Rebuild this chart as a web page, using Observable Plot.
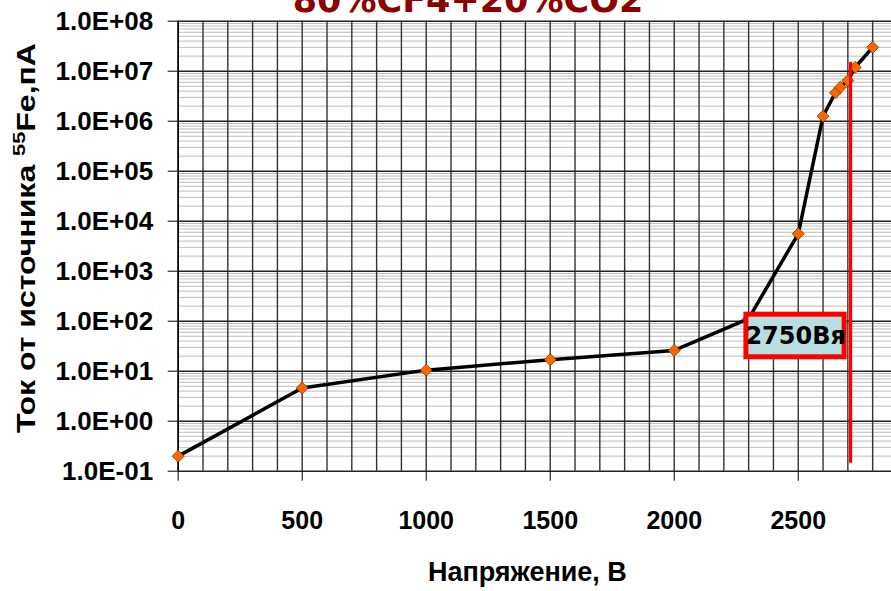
<!DOCTYPE html>
<html>
<head>
<meta charset="utf-8">
<script src="https://cdn.jsdelivr.net/npm/d3@7"></script>
<script src="https://cdn.jsdelivr.net/npm/@observablehq/plot@0.6"></script>
<style>
  html, body { margin: 0; padding: 0; background: #fff; }
  #wrap { position: relative; width: 891px; height: 591px; overflow: hidden; background: #fff; }
  #title { position: absolute; left: 0; width: 936px; top: -17px; text-align: center;
           font-family: "DejaVu Sans", Verdana, sans-serif; font-weight: bold; font-size: 35px;
           line-height: 35px; color: #8B0000; white-space: nowrap; }
  #chart { position: absolute; left: 0; top: 0; }
</style>
</head>
<body>
<div id="wrap">
  <div id="chart"></div>
  <div id="title">80%CF4+20%CO2</div>
</div>
<script>
// ---- data ----
const voltage = [0, 500, 1000, 1500, 2000, 2300, 2500, 2600, 2650, 2670, 2700, 2730, 2800];
const current = [0.2, 4.6, 10.5, 17, 26, 113, 5600, 1.26e6, 3.7e6, 4.8e6, 6.5e6, 1.2e7, 3.0e7];

const xTicks = [0, 500, 1000, 1500, 2000, 2500];
const yTicks = [1e-1, 1e0, 1e1, 1e2, 1e3, 1e4, 1e5, 1e6, 1e7, 1e8];

// annotation: red vertical marker and labelled box
const markerVoltage = [2711];
const markerRange = [0.145, 1.5e7];
const boxLabel = ["2750Вя"];
const boxX = [2291, 2687];
const boxY = [19, 135];
const boxTextPos = [2287, 50];

const titleText = "80%CF4+20%CO2";
const xLabel = "Напряжение, В";
const yLabelMain = "Ток от источника ";
const yLabelSup = "55";
const yLabelTail = "Fe,пА";

// ---- derived tables ----
const data = voltage.map((v, i) => ({v, c: current[i]}));
const xGrid = d3.range(0, 2900, 100);
const yMinor = [];
for (let e = -1; e < 8; e++) for (let k = 2; k <= 9; k++) yMinor.push(k * Math.pow(10, e));

const fmt = d => {
  const e = Math.round(Math.log10(d));
  return "1.0E" + (e < 0 ? "-" : "+") + String(Math.abs(e)).padStart(2, "0");
};

const chart = Plot.plot({
  width: 891,
  height: 591,
  marginTop: 20.7,
  marginBottom: 120.3,
  marginLeft: 177.7,
  marginRight: 0,
  x: {domain: [0, 2876]},
  y: {type: "log", domain: [0.1, 1e8]},
  style: {fontFamily: "'Liberation Sans', Arial, sans-serif", background: "#fff", color: "#000"},
  marks: [
    Plot.gridY(yMinor, {stroke: "#bdbdbd", strokeOpacity: 1, strokeWidth: 1}),
    Plot.gridX(xGrid, {stroke: "#333", strokeOpacity: 1, strokeWidth: 1.4}),
    Plot.gridY(yTicks, {stroke: "#222", strokeOpacity: 1, strokeWidth: 1.6}),
    Plot.ruleX([0], {stroke: "#000", strokeWidth: 1.6}),
    Plot.axisX(xTicks, {tickSize: 10, tickPadding: 30, tickFormat: d => String(d), fontSize: 25, fontWeight: "bold", label: null, stroke: "#000"}),
    Plot.axisY(yTicks, {tickSize: 10, tickPadding: 15, tickFormat: fmt, fontSize: 26, fontWeight: "bold", label: null, stroke: "#000"}),
    Plot.line(data, {x: "v", y: "c", stroke: "#000", strokeWidth: 3.5}),
    Plot.dot(data, {x: "v", y: "c", symbol: "diamond2", r: 5.4, fill: "#FF6600", stroke: "#7a3300", strokeWidth: 0.8}),
    Plot.ruleX(markerVoltage, {y1: markerRange[0], y2: markerRange[1], stroke: "#FF0000", strokeWidth: 3.2}),
    Plot.rect([{}], {x1: boxX[0], x2: boxX[1], y1: boxY[0], y2: boxY[1], fill: "#B9DEE2", stroke: "#FF0000", strokeWidth: 5}),
    Plot.text(boxLabel, {x: boxTextPos[0], y: boxTextPos[1], text: d => d, textAnchor: "start",
      fontSize: 24, fontWeight: "bold", fontFamily: "'DejaVu Sans', Verdana, sans-serif", fill: "#000"})
  ]
});

const svg = d3.select(chart);
// x axis title
svg.append("text")
  .attr("x", 527.4).attr("y", 581)
  .attr("text-anchor", "middle")
  .attr("font-family", "'Liberation Sans', Arial, sans-serif")
  .attr("font-weight", "bold").attr("font-size", 27)
  .attr("textLength", 199).attr("lengthAdjust", "spacingAndGlyphs")
  .attr("fill", "#000")
  .text(xLabel);
// y axis title with superscript
const yt = svg.append("text")
  .attr("transform", "translate(35,238) rotate(-90)")
  .attr("text-anchor", "middle")
  .attr("font-family", "'Liberation Sans', Arial, sans-serif")
  .attr("font-weight", "bold").attr("font-size", 25)
  .attr("textLength", 390).attr("lengthAdjust", "spacingAndGlyphs")
  .attr("fill", "#000");
yt.append("tspan").text(yLabelMain);
yt.append("tspan").attr("font-size", 17).attr("dy", -10).text(yLabelSup);
yt.append("tspan").attr("dy", 10).text(yLabelTail);

document.getElementById("chart").appendChild(chart);
document.getElementById("title").textContent = titleText;
</script>
</body>
</html>
